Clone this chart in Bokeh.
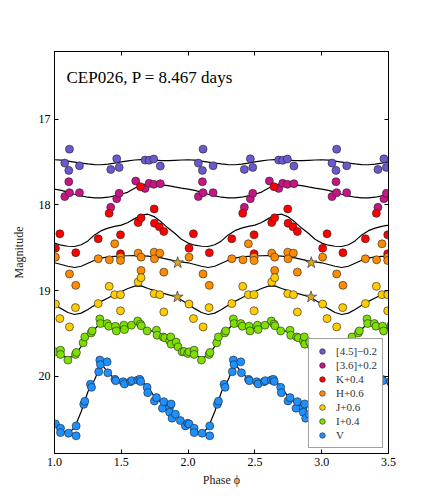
from bokeh.plotting import figure
from bokeh.models import Range1d, FixedTicker, LinearAxis, Label, CustomJSTickFormatter, NumeralTickFormatter
from bokeh.embed import file_html
from bokeh.resources import INLINE

# ---------------- data (phase in [0,1), magnitudes incl. offsets) ----------------
CYCLES = [1, 2, 3]

P45 = [0.077, 0.107, 0.112, 0.187, 0.421, 0.466, 0.484, 0.678, 0.708, 0.743, 0.792]
M45 = [17.512, 17.597, 17.349, 17.543, 17.586, 17.462, 17.562, 17.477, 17.480, 17.465, 17.547]

P36 = [0.077, 0.107, 0.112, 0.187, 0.421, 0.466, 0.484, 0.608, 0.678, 0.708, 0.743, 0.792]
M36 = [17.903, 17.729, 17.857, 17.857, 18.028, 17.927, 17.865, 17.721, 17.807, 17.748, 17.760, 17.752]

PK = [0.007, 0.040, 0.159, 0.327, 0.409, 0.494, 0.494, 0.626, 0.643, 0.648, 0.746, 0.748, 0.785, 0.818]
MK = [18.505, 18.337, 18.558, 18.395, 18.098, 18.349, 18.570, 18.206, 17.787, 18.151, 18.047, 18.214, 18.256, 18.310]

PH = [0.007, 0.112, 0.159, 0.327, 0.411, 0.451, 0.494, 0.494, 0.626, 0.648, 0.648, 0.746, 0.748, 0.788, 0.818]
MH = [18.609, 18.805, 18.938, 18.628, 18.640, 18.453, 18.609, 18.648, 18.563, 18.609, 18.764, 18.551, 18.628, 18.563, 18.784]

PJ = [0.007, 0.040, 0.112, 0.157, 0.327, 0.409, 0.451, 0.494, 0.494, 0.626, 0.648, 0.746, 0.788, 0.818]
MJ = [19.156, 19.326, 19.423, 19.198, 19.151, 18.950, 19.047, 19.047, 19.235, 18.900, 18.849, 19.035, 19.047, 19.249]

PSTAR = [0.922, 0.920]
MSTAR = [18.674, 19.074]

PI = [0.007, 0.045, 0.045, 0.100, 0.157, 0.164, 0.214, 0.227, 0.274, 0.282, 0.339, 0.344,
      0.394, 0.406, 0.456, 0.463, 0.519, 0.524, 0.576, 0.623, 0.643, 0.650, 0.693, 0.763,
      0.768, 0.813, 0.825, 0.862, 0.870, 0.873, 0.910, 0.925, 0.955, 0.970, 0.997]
MI = [19.714, 19.694, 19.744, 19.810, 19.744, 19.721, 19.609, 19.540, 19.493, 19.470, 19.330, 19.384,
      19.384, 19.415, 19.415, 19.470, 19.403, 19.453, 19.403, 19.354, 19.390, 19.410, 19.470, 19.462,
      19.520, 19.540, 19.550, 19.586, 19.540, 19.624, 19.600, 19.656, 19.714, 19.710, 19.733]

PV = [0.007, 0.045, 0.045, 0.105, 0.162, 0.162, 0.219, 0.227, 0.269, 0.277, 0.331, 0.339,
      0.344, 0.394, 0.399, 0.452, 0.458, 0.514, 0.524, 0.569, 0.578, 0.623, 0.638, 0.645,
      0.693, 0.698, 0.748, 0.763, 0.808, 0.818, 0.862, 0.862, 0.873, 0.880, 0.905, 0.942,
      0.980, 0.997]
MV = [20.555, 20.605, 20.656, 20.663, 20.578, 20.694, 20.326, 20.290, 20.093, 20.128, 19.946, 19.810,
      19.863, 19.831, 19.959, 20.035, 20.050, 20.062, 20.088, 20.062, 20.050, 20.043, 20.035, 20.060,
      20.128, 20.190, 20.287, 20.248, 20.372, 20.295, 20.360, 20.420, 20.322, 20.488, 20.442, 20.516,
      20.578, 20.547]

# template curves sampled on a phase grid
TPH = [0.00, 0.05, 0.10, 0.15, 0.20, 0.25, 0.30, 0.35, 0.40, 0.45, 0.50,
       0.55, 0.60, 0.65, 0.70, 0.75, 0.80, 0.85, 0.90, 0.95, 1.00]
T45 = [17.473, 17.478, 17.488, 17.500, 17.512, 17.522, 17.529, 17.531, 17.525, 17.512, 17.498,
       17.485, 17.476, 17.472, 17.473, 17.477, 17.482, 17.484, 17.480, 17.476, 17.473]
T36 = [17.815, 17.830, 17.850, 17.875, 17.895, 17.910, 17.918, 17.918, 17.910, 17.895, 17.875,
       17.850, 17.805, 17.765, 17.755, 17.757, 17.765, 17.775, 17.790, 17.803, 17.815]
TK = [18.445, 18.470, 18.482, 18.485, 18.465, 18.420, 18.350, 18.300, 18.270, 18.250, 18.235,
      18.205, 18.160, 18.120, 18.108, 18.140, 18.200, 18.270, 18.330, 18.400, 18.445]
TH = [18.675, 18.695, 18.715, 18.730, 18.715, 18.680, 18.645, 18.620, 18.607, 18.600, 18.596,
      18.593, 18.592, 18.593, 18.597, 18.605, 18.618, 18.635, 18.652, 18.665, 18.675]
TJ = [19.160, 19.210, 19.255, 19.278, 19.262, 19.220, 19.170, 19.125, 19.085, 19.045, 19.010,
      18.975, 18.948, 18.945, 18.975, 19.000, 19.025, 19.047, 19.068, 19.110, 19.160]
TI = [19.720, 19.750, 19.785, 19.760, 19.650, 19.530, 19.450, 19.370, 19.390, 19.430, 19.440,
      19.420, 19.385, 19.390, 19.460, 19.480, 19.530, 19.570, 19.615, 19.680, 19.720]
TV = [20.560, 20.625, 20.665, 20.600, 20.410, 20.180, 20.040, 19.855, 19.950, 20.030, 20.065,
      20.065, 20.045, 20.050, 20.130, 20.240, 20.310, 20.360, 20.430, 20.510, 20.560]

XTICKS = [1.0, 1.5, 2.0, 2.5, 3.0, 3.5]
YTICKS = [17, 18, 19, 20]

BANDS = [
    ("[4.5]\u22120.2", "#6A5ACD", P45, M45, T45),
    ("[3.6]+0.2", "#C71585", P36, M36, T36),
    ("K+0.4", "#FF0000", PK, MK, TK),
    ("H+0.6", "#FF8C00", PH, MH, TH),
    ("J+0.6", "#FFCC00", PJ, MJ, TJ),
    ("I+0.4", "#7EE000", PI, MI, TI),
    ("V", "#1E90FF", PV, MV, TV),
]


def tile(ph, mg):
    xs, ys = [], []
    for k in CYCLES:
        for a, b in zip(ph, mg):
            xs.append(a + k)
            ys.append(b)
    return xs, ys


SERIF = "Liberation Serif"

p = figure(frame_width=334, frame_height=402,
           min_border_left=54, min_border_right=36, min_border_top=51, min_border_bottom=43,
           x_range=Range1d(1.0, 3.5), y_range=Range1d(20.9, 16.21),
           output_backend="svg", toolbar_location=None)
p.background_fill_color = "white"
p.border_fill_color = "white"
p.outline_line_color = "black"
p.outline_line_width = 1
p.grid.visible = False

for ax in (p.xaxis[0], p.yaxis[0]):
    ax.major_tick_in = 4
    ax.major_tick_out = 0
    ax.minor_tick_line_color = None
    ax.axis_line_color = "black"
    ax.major_label_text_font = SERIF
    ax.major_label_text_font_size = "12px"
    ax.major_label_text_color = "black"
    ax.axis_label_text_font = SERIF
    ax.axis_label_text_font_size = "12px"
    ax.axis_label_text_font_style = "normal"
    ax.axis_label_text_color = "#222222"

p.xaxis.ticker = FixedTicker(ticks=XTICKS)
p.xaxis.formatter = NumeralTickFormatter(format="0.0")
p.yaxis.ticker = FixedTicker(ticks=YTICKS)
p.xaxis.axis_label = "Phase \u03d5"
p.yaxis.axis_label = "Magnitude"
p.xaxis.major_label_standoff = 4
p.yaxis.major_label_standoff = 4
p.xaxis.axis_label_standoff = 4
p.yaxis.axis_label_standoff = 10

blank = CustomJSTickFormatter(code="return ''")
top = LinearAxis(ticker=FixedTicker(ticks=XTICKS), formatter=blank, major_tick_in=4,
                 major_tick_out=0, minor_tick_line_color=None, major_label_text_font_size="1px")
right = LinearAxis(ticker=FixedTicker(ticks=YTICKS), formatter=blank, major_tick_in=4,
                   major_tick_out=0, minor_tick_line_color=None, major_label_text_font_size="1px")
p.add_layout(top, "above")
p.add_layout(right, "right")

# template curves
for name, col, ph, mg, tm in BANDS:
    tx, ty = tile(TPH, tm)
    p.line(tx, ty, line_color="black", line_width=1.2)

# data points
for name, col, ph, mg, tm in BANDS:
    xs, ys = tile(ph, mg)
    p.scatter(xs, ys, marker="circle", size=8, fill_color=col, line_color="#222222",
              line_width=0.6, legend_label=name)

sx, sy = tile(PSTAR, MSTAR)
p.scatter(sx, sy, marker="star", size=12, fill_color="#DAA520", line_color="#333333", line_width=0.7)

p.add_layout(Label(x=1.09, y=16.515, text="CEP026, P = 8.467 days", text_font=SERIF,
                   text_font_size="17px", text_color="black", text_baseline="alphabetic"))

lg = p.legend[0]
lg.location = "bottom_right"
lg.margin = 5
lg.padding = 5
lg.spacing = 0
lg.glyph_width = 16
lg.glyph_height = 14
lg.label_height = 14
lg.label_standoff = 6
lg.label_text_font = SERIF
lg.label_text_font_size = "11px"
lg.label_text_color = "#333333"
lg.border_line_color = "#444444"
lg.border_line_width = 1.5
lg.background_fill_alpha = 1.0

open("out.html", "w").write(file_html(p, INLINE))
